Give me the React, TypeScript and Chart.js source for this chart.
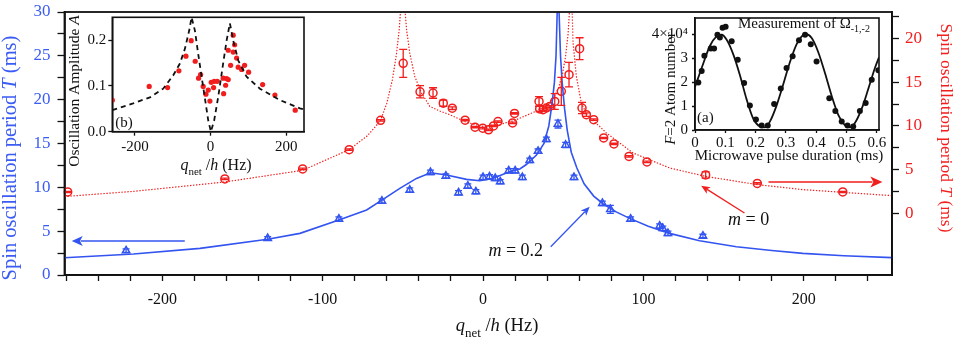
import React, { useEffect, useRef } from "react";
import { Chart, registerables } from "chart.js";

Chart.register(...registerables);

const FONT = "'Liberation Serif', 'Times New Roman', Times, serif";
const BLUE = "#3354f0";
const BLUE_TEXT = "#3b5cf4";
const RED = "#f21d1d";
const BLACK = "#111111";

// ---------- Main panel, m = 0.2 (blue triangles, left axis) ----------
const blueQ = [-222.6, -134.3, -89.9, -63.1, -45.7, -32.8, -23.2, -15.3, -9.5, -4.5, 0, 4, 7.6, 10.7, 16, 20, 24.5, 29.1, 34.3, 39.5, 46.7, 51.5, 56.7, 74.4, 79.4, 92, 110.1, 112.1, 115.3, 137.1];
const blueT = [2.77, 4.18, 6.39, 8.44, 9.69, 11.71, 11.29, 9.38, 10.15, 9.5, 11.14, 11.21, 11.03, 10.64, 11.89, 11.89, 11.14, 13.08, 14.12, 15.47, 17.22, 14.82, 11.14, 8.18, 7.49, 6.39, 5.59, 5.32, 4.75, 4.45];
const blueErr = [0.2, 0.2, 0.25, 0.25, 0.25, 0.25, 0.25, 0.25, 0.25, 0.25, 0.25, 0.25, 0.25, 0.25, 0.25, 0.25, 0.25, 0.25, 0.25, 0.25, 0.45, 0.3, 0.25, 0.25, 0.45, 0.25, 0.25, 0.25, 0.25, 0.2];

// ---------- Main panel, m = 0 (red circles, right axis) ----------
const redQ = [-259, -161, -112.5, -83.5, -63.9, -49.8, -39.3, -31.2, -24.8, -19.2, -11.2, -5, -0.2, 3.4, 6.5, 9.3, 18.4, 19.6, 34.9, 35.3, 37.4, 39.5, 41.6, 44.7, 48.8, 53.6, 60.2, 61.7, 64.4, 69, 75.2, 81.6, 91, 102.2, 138.8, 171, 224.3];
const redT = [2.47, 3.96, 5.1, 7.3, 10.64, 17.14, 13.9, 13.76, 12.6, 12.03, 10.66, 9.86, 9.75, 9.56, 10, 10.5, 10.35, 11.43, 12.8, 11.94, 11.86, 12.05, 12.23, 12.8, 13.95, 15.85, 18.81, 12.05, 11.29, 10.72, 8.63, 7.95, 6.53, 5.9, 4.41, 3.45, 2.47];
const redErr = [0.08, 0.08, 0.08, 0.08, 0.08, 1.6, 0.7, 0.6, 0.35, 0.15, 0.08, 0.08, 0.08, 0.08, 0.08, 0.08, 0.08, 0.08, 0.55, 0.3, 0.1, 0.1, 0.1, 0.9, 1.6, 1.4, 1.25, 0.65, 0.2, 0.08, 0.08, 0.08, 0.08, 0.08, 0.35, 0.08, 0.08];

// ---------- Fitted curves ----------
const blueFitQ = [-261, -218, -176.5, -134.3, -114.2, -89.9, -72.6, -63.1, -51.9, -41.5, -32.8, -22.8, -10.3, -2.1, 6.2, 16.6, 22.9, 27, 33.3, 38, 41, 43, 44.5, 45.5, 46.3, 47.3, 48.3, 49.3, 50.8, 52.5, 55, 58.5, 63, 69, 75, 83, 91.4, 103, 116.3, 135, 158, 180, 199.4, 225, 255];
const blueFitT = [1.97, 2.39, 3.04, 4.07, 4.75, 6.27, 7.41, 8.55, 9.88, 11.02, 11.66, 11.4, 10.91, 10.75, 11.03, 11.78, 12.1, 12.6, 13.68, 15.0, 17.0, 19.5, 22, 25, 30.5, 30.5, 25, 22, 19, 16.5, 14.0, 12.2, 10.4, 9.0, 8.1, 7.2, 6.46, 5.55, 4.75, 3.9, 3.23, 2.8, 2.47, 2.2, 1.98];
const redFitQ = [-261, -218, -161, -112.5, -83.5, -72, -64, -60, -56.5, -54, -52.3, -51.3, -48.8, -47.7, -45.7, -42.6, -38.4, -33.2, -27, -20.8, -10.3, -0.2, 10.4, 20.8, 31, 39.5, 44, 47, 49.5, 51.5, 53, 54, 55.5, 56.1, 58.2, 61.3, 65.4, 72.7, 76.9, 93.5, 116.3, 138.8, 171, 199.4, 255];
const redFitT = [1.95, 2.54, 3.61, 4.94, 7.3, 8.9, 10.6, 12.6, 15.3, 18.2, 21, 23.5, 23.5, 20.98, 18.3, 15.65, 13.76, 12.23, 11.7, 11.29, 10.41, 9.95, 10.15, 10.72, 11.52, 12.23, 13.2, 14.3, 15.9, 18.0, 20.5, 23.5, 23.5, 19.5, 15.65, 12.6, 11.1, 9.95, 9.2, 6.92, 5.21, 4.25, 3.31, 2.74, 2.05];

// ---------- Main axes ----------
const xTickValues = [-260, -240, -220, -200, -180, -160, -140, -120, -100, -80, -60, -40, -20, 0, 20, 40, 60, 80, 100, 120, 140, 160, 180, 200, 220, 240];
const xLabelValues = [-200, -100, 0, 100, 200];
const xLabelTexts = ["-200", "-100", "0", "100", "200"];
const yTickValues = [0, 2.5, 5, 7.5, 10, 12.5, 15, 17.5, 20, 22.5, 25, 27.5, 30];
const yLabelValues = [0, 5, 10, 15, 20, 25, 30];
const yLabelTexts = ["0", "5", "10", "15", "20", "25", "30"];
const y2TickValues = [0, 2.5, 5, 7.5, 10, 12.5, 15, 17.5, 20, 22.5];
const y2LabelValues = [0, 5, 10, 15, 20];
const y2LabelTexts = ["0", "5", "10", "15", "20"];

// ---------- Inset (b): oscillation amplitude ----------
const ampQ = [-260, -162.4, -113.8, -83.9, -65.3, -51.3, -40.7, -31.8, -26.5, -19.6, -12.4, -6.3, -1.9, 1.6, 7.9, 9.5, 17.5, 34.4, 33.3, 39.7, 42.3, 46.6, 46.6, 52.9, 59.8, 59.8, 63.5, 68.8, 73, 82, 89.9, 100.5, 137.6, 170.1, 223.8];
const ampA = [0.069, 0.099, 0.0965, 0.133, 0.165, 0.199, 0.154, 0.117, 0.125, 0.099, 0.082, 0.091, 0.067, 0.108, 0.0965, 0.11, 0.11, 0.083, 0.117, 0.1015, 0.116, 0.114, 0.178, 0.145, 0.211, 0.174, 0.19, 0.161, 0.141, 0.136, 0.145, 0.13, 0.103, 0.08, 0.047];
const ampFitQ = [-260, -204.8, -160.6, -125.4, -99, -81.2, -68, -56.6, -50.3, -41.5, -32.8, -23.8, -15.1, -6.3, 0.8, 9.5, 20.1, 31.7, 42.3, 51, 59.8, 73, 95.2, 130.4, 183.3, 236.2, 246.8];
const ampFitA = [0.047, 0.062, 0.075, 0.094, 0.123, 0.149, 0.181, 0.221, 0.25, 0.221, 0.17, 0.12, 0.073, 0.025, 0, 0.025, 0.076, 0.141, 0.199, 0.237, 0.199, 0.156, 0.12, 0.094, 0.069, 0.051, 0.049];
const bXTicks = [-200, 0, 200];
const bXLabels = ["-200", "0", "200"];
const bYTicks = [0, 0.1, 0.2];
const bYLabels = ["0.0", "0.1", "0.2"];

// ---------- Inset (a): Rabi oscillation ----------
const pulseT = [0.011, 0.022, 0.031, 0.052, 0.063, 0.074, 0.082, 0.091, 0.101, 0.121, 0.141, 0.162, 0.181, 0.201, 0.22, 0.24, 0.261, 0.283, 0.302, 0.322, 0.343, 0.363, 0.382, 0.401, 0.443, 0.463, 0.484, 0.503, 0.522, 0.544, 0.563, 0.583, 0.605];
const atomN = [1.99, 2.47, 3.1, 3.41, 3.41, 3.98, 3.87, 4.27, 4.31, 3.71, 2.94, 1.96, 1.02, 0.44, 0.19, 0.19, 1.09, 1.73, 2.59, 3.08, 3.75, 3.98, 3.58, 2.86, 1.33, 0.79, 0.35, 0.19, 0.15, 0.79, 1.13, 2.1, 2.5];
const pulseFitT = [0, 0.027, 0.049, 0.071, 0.088, 0.104, 0.126, 0.148, 0.17, 0.192, 0.214, 0.231, 0.247, 0.269, 0.291, 0.313, 0.335, 0.352, 0.366, 0.385, 0.407, 0.429, 0.451, 0.473, 0.495, 0.511, 0.527, 0.55, 0.571, 0.593, 0.607];
const atomFitN = [1.8, 2.77, 3.51, 3.91, 3.98, 3.78, 3.17, 2.3, 1.29, 0.48, 0.15, 0.11, 0.35, 1.02, 1.9, 2.83, 3.58, 3.91, 4.0, 3.84, 3.24, 2.37, 1.42, 0.62, 0.19, 0.11, 0.28, 0.89, 1.69, 2.57, 3.04];
const aXTicks = [0, 0.1, 0.2, 0.3, 0.4, 0.5, 0.6];
const aXLabels = ["0", "0.1", "0.2", "0.3", "0.4", "0.5", "0.6"];
const aYTicks = [0, 1, 2, 3, 4];
const aYLabels = ["0", "1", "2", "3", "4\u00d710\u2074"];

// ---------- Annotation anchors (data coordinates) ----------
const blueArrow = { from: [-186, 3.88], to: [-256.5, 3.88] };
const redArrow = { from: [178, 3.61], to: [249, 3.61] };
const blueLabelArrow = { from: [42.2, 3.23], to: [66.5, 7.79] };
const redLabelArrow = { from: [163, 0.08], to: [136, 3.19] };
const blueLabelPos = [20.4, 2.17];
const redLabelPos = [165.6, -1.25];

type Seg = { t: string; i?: boolean; sub?: boolean };

function drawRich(ctx: CanvasRenderingContext2D, segs: Seg[], x: number, y: number, size: number, color: string, align: "left" | "center" = "center", rot = 0) {
  ctx.save();
  ctx.translate(x, y);
  ctx.rotate(rot);
  ctx.fillStyle = color;
  ctx.textBaseline = "alphabetic";
  ctx.textAlign = "left";
  const fontOf = (s: Seg) => `${s.i ? "italic " : ""}${s.sub ? Math.round(size * 0.68) : size}px ${FONT}`;
  let total = 0;
  for (const s of segs) {
    ctx.font = fontOf(s);
    total += ctx.measureText(s.t).width;
  }
  let cx = align === "center" ? -total / 2 : 0;
  for (const s of segs) {
    ctx.font = fontOf(s);
    ctx.fillText(s.t, cx, s.sub ? size * 0.3 : 0);
    cx += ctx.measureText(s.t).width;
  }
  ctx.restore();
}

function drawArrow(ctx: CanvasRenderingContext2D, x1: number, y1: number, x2: number, y2: number, color: string, lw: number, L: number, W: number) {
  const ang = Math.atan2(y2 - y1, x2 - x1);
  const bx = x2 - L * Math.cos(ang);
  const by = y2 - L * Math.sin(ang);
  ctx.save();
  ctx.strokeStyle = color;
  ctx.fillStyle = color;
  ctx.lineWidth = lw;
  ctx.beginPath();
  ctx.moveTo(x1, y1);
  ctx.lineTo(bx + 2 * Math.cos(ang), by + 2 * Math.sin(ang));
  ctx.stroke();
  ctx.beginPath();
  ctx.moveTo(x2, y2);
  ctx.lineTo(bx - W * Math.sin(ang), by + W * Math.cos(ang));
  ctx.lineTo(bx + 0.25 * L * Math.cos(ang), by + 0.25 * L * Math.sin(ang));
  ctx.lineTo(bx + W * Math.sin(ang), by - W * Math.cos(ang));
  ctx.closePath();
  ctx.fill();
  ctx.restore();
}

const pts = (xs: number[], ys: number[]) => xs.map((x, i) => ({ x, y: ys[i] }));

const setTicks = (values: number[]) => (s: any) => {
  s.ticks = values.map((v) => ({ value: v }));
};
const labelFrom = (values: number[], texts: string[]) => (v: any) => {
  const k = values.findIndex((w) => Math.abs(w - Number(v)) < 1e-9);
  return k >= 0 ? texts[k] : "";
};
const fixBox = (dim: "width" | "height", n: number) => (s: any) => {
  s[dim] = n;
  s.paddingTop = 0;
  s.paddingBottom = 0;
  s.paddingLeft = 0;
  s.paddingRight = 0;
};

const errorBars = {
  id: "errorBars",
  afterDatasetsDraw(chart: any) {
    const ctx = chart.ctx;
    chart.data.datasets.forEach((ds: any, di: number) => {
      if (!ds.errors) return;
      const meta = chart.getDatasetMeta(di);
      const ys = chart.scales[meta.yAxisID];
      ctx.save();
      ctx.strokeStyle = ds.borderColor;
      ctx.lineWidth = 1.3;
      meta.data.forEach((el: any, i: number) => {
        const v = ds.data[i].y;
        const e = ds.errors[i];
        const x = el.x;
        const ya = ys.getPixelForValue(v + e);
        const yb = ys.getPixelForValue(v - e);
        const c = ds.capHalf;
        ctx.beginPath();
        ctx.moveTo(x, ya);
        ctx.lineTo(x, yb);
        ctx.moveTo(x - c, ya);
        ctx.lineTo(x + c, ya);
        ctx.moveTo(x - c, yb);
        ctx.lineTo(x + c, yb);
        ctx.stroke();
      });
      ctx.restore();
    });
  },
};

const mainDecor = {
  id: "mainDecor",
  afterDraw(chart: any) {
    const { ctx, chartArea: ca, scales } = chart;
    const X = scales.x, Y = scales.y, Y2 = scales.y2;
    ctx.save();
    ctx.strokeStyle = BLACK;
    ctx.lineWidth = 1.8;
    ctx.strokeRect(ca.left, ca.top, ca.right - ca.left, ca.bottom - ca.top);
    ctx.restore();

    const LT = 20.5;
    drawRich(ctx, [{ t: "Spin oscillation period " }, { t: "T", i: true }, { t: " (ms)" }], 11 + 0.23 * LT, 158, LT, BLUE_TEXT, "center", -Math.PI / 2);
    const RT = 17.5;
    drawRich(ctx, [{ t: "Spin oscillation period " }, { t: "T", i: true }, { t: " (ms)" }], 945 - 0.23 * RT, 128, RT, RED, "center", Math.PI / 2);
    drawRich(ctx, [{ t: "q", i: true }, { t: "net", sub: true }, { t: " /" }, { t: "h", i: true }, { t: " (Hz)" }], 497, 331, 18.5, BLACK);

    drawArrow(ctx, X.getPixelForValue(blueArrow.from[0]), Y.getPixelForValue(blueArrow.from[1]), X.getPixelForValue(blueArrow.to[0]), Y.getPixelForValue(blueArrow.to[1]), BLUE, 1.5, 11, 5);
    drawArrow(ctx, X.getPixelForValue(redArrow.from[0]), Y2.getPixelForValue(redArrow.from[1]), X.getPixelForValue(redArrow.to[0]), Y2.getPixelForValue(redArrow.to[1]), RED, 1.5, 12, 5.5);
    drawArrow(ctx, X.getPixelForValue(blueLabelArrow.from[0]), Y.getPixelForValue(blueLabelArrow.from[1]), X.getPixelForValue(blueLabelArrow.to[0]), Y.getPixelForValue(blueLabelArrow.to[1]), BLUE, 1.3, 9, 3.8);
    drawArrow(ctx, X.getPixelForValue(redLabelArrow.from[0]), Y2.getPixelForValue(redLabelArrow.from[1]), X.getPixelForValue(redLabelArrow.to[0]), Y2.getPixelForValue(redLabelArrow.to[1]), RED, 1.3, 9, 3.8);
    drawRich(ctx, [{ t: "m", i: true }, { t: " = 0.2" }], X.getPixelForValue(blueLabelPos[0]), Y.getPixelForValue(blueLabelPos[1]), 18, BLACK);
    drawRich(ctx, [{ t: "m", i: true }, { t: " = 0" }], X.getPixelForValue(redLabelPos[0]), Y2.getPixelForValue(redLabelPos[1]), 18, BLACK);
  },
};

const boxPlugin = (id: string, draw: (chart: any) => void) => ({
  id,
  afterDraw(chart: any) {
    const { ctx, chartArea: ca } = chart;
    ctx.save();
    ctx.strokeStyle = BLACK;
    ctx.lineWidth = 1.6;
    ctx.strokeRect(ca.left, ca.top, ca.right - ca.left, ca.bottom - ca.top);
    ctx.restore();
    draw(chart);
  },
});

function axisCommon(color: string, size: number, pad: number, tl: number) {
  return {
    ticks: { color, font: { family: FONT, size }, padding: pad, autoSkip: false, maxRotation: 0, minRotation: 0 },
    grid: { drawOnChartArea: false, tickLength: tl, color: BLACK, tickWidth: 1.3 },
    border: { display: true, color: BLACK, width: 1.8 },
  };
}

export default function App() {
  const mainRef = useRef<HTMLCanvasElement>(null);
  const bRef = useRef<HTMLCanvasElement>(null);
  const aRef = useRef<HTMLCanvasElement>(null);

  useEffect(() => {
    document.body.style.margin = "0";
    const charts: Chart[] = [];

    const xc = axisCommon(BLACK, 16, 9, 6);
    const yc = axisCommon(BLUE_TEXT, 17, 7, 7);
    const y2c = axisCommon(RED, 17, 6, 7);

    charts.push(
      new Chart(mainRef.current as HTMLCanvasElement, {
        type: "scatter",
        data: {
          datasets: [
            { type: "line", data: pts(redFitQ, redFitT), yAxisID: "y2", borderColor: RED, borderWidth: 1.2, borderDash: [1.4, 1.6], pointRadius: 0, fill: false, tension: 0 } as any,
            { type: "line", data: pts(blueFitQ, blueFitT), yAxisID: "y", borderColor: BLUE, borderWidth: 1.6, pointRadius: 0, fill: false, tension: 0 } as any,
            { data: pts(redQ, redT), yAxisID: "y2", pointStyle: "circle", pointRadius: 4, borderColor: RED, backgroundColor: "rgba(0,0,0,0)", pointBorderWidth: 1.5, errors: redErr, capHalf: 4 } as any,
            { data: pts(blueQ, blueT), yAxisID: "y", pointStyle: "triangle", pointRadius: 4.3, borderColor: BLUE, backgroundColor: "rgba(0,0,0,0)", pointBorderWidth: 1.5, errors: blueErr, capHalf: 3.5 } as any,
          ],
        },
        options: {
          responsive: false,
          animation: false,
          devicePixelRatio: 1,
          events: [],
          layout: { padding: { top: 12, left: 0, right: 0, bottom: 0 } },
          plugins: { legend: { display: false }, tooltip: { enabled: false } },
          scales: {
            x: { type: "linear", min: -261, max: 255, afterBuildTicks: setTicks(xTickValues), afterFit: fixBox("height", 67), ...xc, ticks: { ...xc.ticks, callback: labelFrom(xLabelValues, xLabelTexts) } },
            y: { type: "linear", position: "left", min: 0, max: 30, afterBuildTicks: setTicks(yTickValues), afterFit: fixBox("width", 64.5), ...yc, ticks: { ...yc.ticks, callback: labelFrom(yLabelValues, yLabelTexts) } },
            y2: { type: "linear", position: "right", min: -7, max: 23, afterBuildTicks: setTicks(y2TickValues), afterFit: fixBox("width", 62), ...y2c, ticks: { ...y2c.ticks, callback: labelFrom(y2LabelValues, y2LabelTexts) } },
          } as any,
        },
        plugins: [errorBars, mainDecor],
      } as any)
    );

    const bx = axisCommon(BLACK, 15, 2.5, 4);
    const by = axisCommon(BLACK, 15, 2, 4);
    bx.border.width = 1.5;
    by.border.width = 1.5;
    charts.push(
      new Chart(bRef.current as HTMLCanvasElement, {
        type: "scatter",
        data: {
          datasets: [
            { type: "line", data: pts(ampFitQ, ampFitA), borderColor: BLACK, borderWidth: 1.8, borderDash: [5, 4], pointRadius: 0, fill: false, tension: 0 } as any,
            { data: pts(ampQ, ampA), pointStyle: "circle", pointRadius: 2.6, borderColor: RED, backgroundColor: RED, pointBorderWidth: 0 } as any,
          ],
        },
        options: {
          responsive: false,
          animation: false,
          devicePixelRatio: 1,
          events: [],
          layout: { padding: { top: 4.3, left: 0, right: 6, bottom: 0 } },
          plugins: { legend: { display: false }, tooltip: { enabled: false } },
          scales: {
            x: { type: "linear", min: -260, max: 247, afterBuildTicks: setTicks(bXTicks), afterFit: fixBox("height", 43.3), ...bx, ticks: { ...bx.ticks, callback: labelFrom(bXTicks, bXLabels) } },
            y: { type: "linear", min: 0, max: 0.25, afterBuildTicks: setTicks(bYTicks), afterFit: fixBox("width", 45.3), ...by, ticks: { ...by.ticks, callback: labelFrom(bYTicks, bYLabels) } },
          } as any,
        },
        plugins: [
          boxPlugin("insetB", (chart: any) => {
            const { ctx, chartArea: ca } = chart;
            drawRich(ctx, [{ t: "(b)" }], ca.left + 3, ca.bottom - 4.5, 15, BLACK, "left");
            drawRich(ctx, [{ t: "Oscillation Amplitude " }, { t: "A", i: true }], 8 + 0.23 * 15.5, 78, 15.5, BLACK, "center", -Math.PI / 2);
            drawRich(ctx, [{ t: "q", i: true }, { t: "net", sub: true }, { t: " /" }, { t: "h", i: true }, { t: " (Hz)" }], 149, 157, 16, BLACK);
          }),
        ],
      } as any)
    );

    const ax = axisCommon(BLACK, 15, 1, 3);
    const ay = axisCommon(BLACK, 15, 4, 3);
    ax.border.width = 1.5;
    ay.border.width = 1.5;
    charts.push(
      new Chart(aRef.current as HTMLCanvasElement, {
        type: "scatter",
        data: {
          datasets: [
            { type: "line", data: pts(pulseFitT, atomFitN), borderColor: BLACK, borderWidth: 1.8, pointRadius: 0, fill: false, cubicInterpolationMode: "monotone" } as any,
            { data: pts(pulseT, atomN), pointStyle: "circle", pointRadius: 3, borderColor: BLACK, backgroundColor: BLACK, pointBorderWidth: 0 } as any,
          ],
        },
        options: {
          responsive: false,
          animation: false,
          devicePixelRatio: 1,
          events: [],
          layout: { padding: { top: 0, left: 0, right: 12, bottom: 0 } },
          plugins: { legend: { display: false }, tooltip: { enabled: false } },
          scales: {
            x: { type: "linear", min: 0, max: 0.607, afterBuildTicks: setTicks(aXTicks), afterFit: fixBox("height", 34), ...ax, ticks: { ...ax.ticks, callback: labelFrom(aXTicks, aXLabels) } },
            y: { type: "linear", min: 0, max: 4.68, afterBuildTicks: setTicks(aYTicks), afterFit: fixBox("width", 45), ...ay, ticks: { ...ay.ticks, callback: labelFrom(aYTicks, aYLabels) } },
          } as any,
        },
        plugins: [
          boxPlugin("insetA", (chart: any) => {
            const { ctx, chartArea: ca } = chart;
            drawRich(ctx, [{ t: "(a)" }], ca.left + 2, ca.bottom - 8, 15, BLACK, "left");
            drawRich(ctx, [{ t: "Measurement of \u03a9" }, { t: "-1,-2", sub: true }], 88, 13.5, 15, BLACK, "left");
            drawRich(ctx, [{ t: "F", i: true }, { t: "=2 Atom number" }], 21.5 + 0.23 * 15, 74.5, 15, BLACK, "center", -Math.PI / 2);
            drawRich(ctx, [{ t: "Microwave pulse duration (ms)" }], 139, 146, 15, BLACK);
          }),
        ],
      } as any)
    );

    return () => {
      charts.forEach((c) => c.destroy());
    };
  }, []);

  return (
    <div style={{ position: "relative", width: 954, height: 342 }}>
      <canvas ref={mainRef} width={954} height={342} style={{ position: "absolute", left: 0, top: 0, width: 954, height: 342 }} />
      <canvas ref={bRef} width={243} height={162} style={{ position: "absolute", left: 67, top: 13, width: 243, height: 162 }} />
      <canvas ref={aRef} width={241} height={150} style={{ position: "absolute", left: 650, top: 14, width: 241, height: 150 }} />
    </div>
  );
}
